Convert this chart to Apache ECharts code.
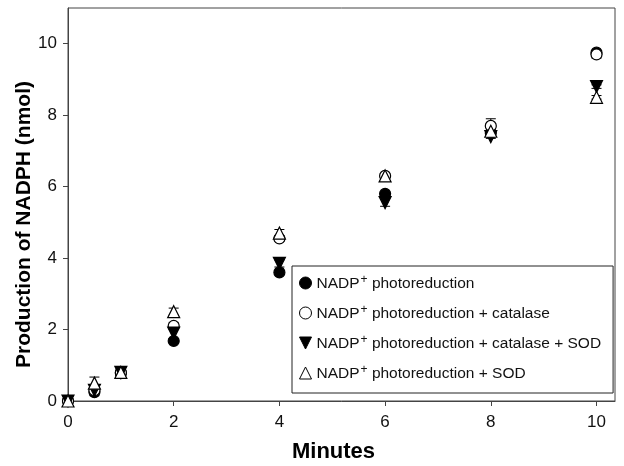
<!DOCTYPE html>
<html><head><meta charset="utf-8">
<script src="https://cdn.jsdelivr.net/npm/echarts@6/dist/echarts.min.js"></script>
<style>html,body{margin:0;padding:0;background:#fff}#c{width:624px;height:466px}</style>
</head><body><div id="c"></div>
<script>
const minutes = [0, 0.5, 1, 2, 4, 6, 8, 10];
const seriesNames = ['photoreduction', 'photoreduction + catalase', 'photoreduction + catalase + SOD', 'photoreduction + SOD'];
const photo      = [0, 0.25, 0.78, 1.68, 3.6, 5.8, 7.5, 9.75];
const photoCat   = [0, 0.3, 0.8, 2.1, 4.55, 6.3, 7.7, 9.7];
const photoCatSod= [0, 0.3, 0.8, 1.9, 3.85, 5.55, 7.4, 8.8];
const photoSod   = [0, 0.5, 0.8, 2.5, 4.7, 6.3, 7.55, 8.5];
const errPhoto      = [0, 0.05, 0.05, 0.05, 0.05, 0.05, 0.05, 0.05];
const errPhotoCat   = [0, 0.05, 0.05, 0.1, 0.08, 0.05, 0.2, 0.1];
const errPhotoCatSod= [0, 0.15, 0.05, 0.15, 0.1, 0.1, 0.05, 0.05];
const errPhotoSod   = [0, 0.17, 0.05, 0.1, 0.1, 0.05, 0.1, 0.05];
const xTicks = [0, 2, 4, 6, 8, 10];
const yTicks = [0, 2, 4, 6, 8, 10];

const chart = echarts.init(document.getElementById('c'));
const FONT = 'Liberation Sans, Arial, sans-serif';
const styles = [
  {symbol: 'circle', rotate: 0, color: '#000', border: '#000'},
  {symbol: 'circle', rotate: 0, color: '#fff', border: '#000'},
  {symbol: 'triangle', rotate: 180, color: '#000', border: '#000'},
  {symbol: 'triangle', rotate: 0, color: '#fff', border: '#000'}
];
const vals = [photo, photoCat, photoCatSod, photoSod];
const errs = [errPhoto, errPhotoCat, errPhotoCatSod, errPhotoSod];
const series = [];
vals.forEach((v, i) => {
  series.push({
    name: seriesNames[i], type: 'custom', z: 2,
    data: minutes.map((m, j) => [m, v[j] - errs[i][j], v[j] + errs[i][j]]),
    renderItem: function (params, api) {
      const lo = api.coord([api.value(0), api.value(1)]);
      const hi = api.coord([api.value(0), api.value(2)]);
      const hw = 5;
      return {type: 'group', children: [
        {type: 'line', shape: {x1: lo[0], y1: lo[1], x2: hi[0], y2: hi[1]}, style: {stroke: '#000', lineWidth: 1}},
        {type: 'line', shape: {x1: lo[0]-hw, y1: lo[1], x2: lo[0]+hw, y2: lo[1]}, style: {stroke: '#000', lineWidth: 1}},
        {type: 'line', shape: {x1: hi[0]-hw, y1: hi[1], x2: hi[0]+hw, y2: hi[1]}, style: {stroke: '#000', lineWidth: 1}}
      ]};
    },
    silent: true
  });
});
vals.forEach((v, i) => {
  const s = styles[i];
  series.push({
    name: seriesNames[i], type: 'scatter', z: 3,
    symbol: s.symbol, symbolRotate: s.rotate, symbolSize: s.symbol === 'circle' ? 11 : 12,
    itemStyle: {color: s.color, borderColor: s.border, borderWidth: 1.2, opacity: 1},
    data: minutes.map((m, j) => [m, v[j]])
  });
});

chart.setOption({
  animation: false,
  grid: {left: 68, right: 9, top: 8, bottom: 65, show: true, borderColor: '#444', borderWidth: 1, outerBoundsMode: 'none', containLabel: false},
  xAxis: {
    type: 'value', min: 0, max: 10.35, interval: 2,
    axisLine: {show: true, onZero: false, lineStyle: {color: '#444'}},
    splitLine: {show: false},
    axisLabel: {color: '#111', fontFamily: FONT, fontSize: 17, margin: 13,
      customValues: xTicks},
    axisTick: {show: true, customValues: xTicks, length: 5, lineStyle: {color: '#444'}},
    name: 'Minutes', nameLocation: 'middle', nameGap: 40, nameMoveOverlap: false,
    nameTextStyle: {fontFamily: FONT, fontWeight: 'bold', fontSize: 22, color: '#000', padding: [0, 16, 0, 0]}
  },
  yAxis: {
    type: 'value', min: 0, max: 11, interval: 2,
    axisLine: {show: true, onZero: false, lineStyle: {color: '#444'}},
    axisTick: {show: true, length: 5, lineStyle: {color: '#444'}, customValues: yTicks},
    splitLine: {show: false},
    axisLabel: {color: '#111', fontFamily: FONT, fontSize: 17, margin: 11, customValues: yTicks},
    name: 'Production of NADPH (nmol)', nameLocation: 'middle', nameGap: 33, nameMoveOverlap: false,
    nameTextStyle: {fontFamily: FONT, fontWeight: 'bold', fontSize: 21, color: '#000', padding: [0, 40, 0, 0]}
  },
  legend: {
    orient: 'vertical', left: 292, top: 266,
    backgroundColor: '#fff', borderColor: '#222', borderWidth: 1,
    padding: [8, 12, 7, 7], itemGap: 8, itemWidth: 12, itemHeight: 12,
    data: seriesNames.map((n, i) => ({name: n, icon: styles[i].symbol === 'circle' ? 'circle' : (i === 2 ? 'path://M0,0L10,0L5,10Z' : 'path://M5,0L10,10L0,10Z'),
      itemStyle: {color: styles[i].color, borderColor: '#000', borderWidth: 1}})),
    formatter: n => '{a|NADP}{s|+}{a| ' + n + '}',
    textStyle: {
      fontFamily: FONT, fontSize: 15.5, color: '#111',
      rich: {
        a: {fontFamily: FONT, fontSize: 15.5, color: '#111', verticalAlign: 'bottom', lineHeight: 18},
        s: {fontFamily: FONT, fontSize: 12, color: '#111', verticalAlign: 'top', padding: [0, 0, 10, 1], lineHeight: 18}
      }
    }
  },
  series: series
});
</script></body></html>
